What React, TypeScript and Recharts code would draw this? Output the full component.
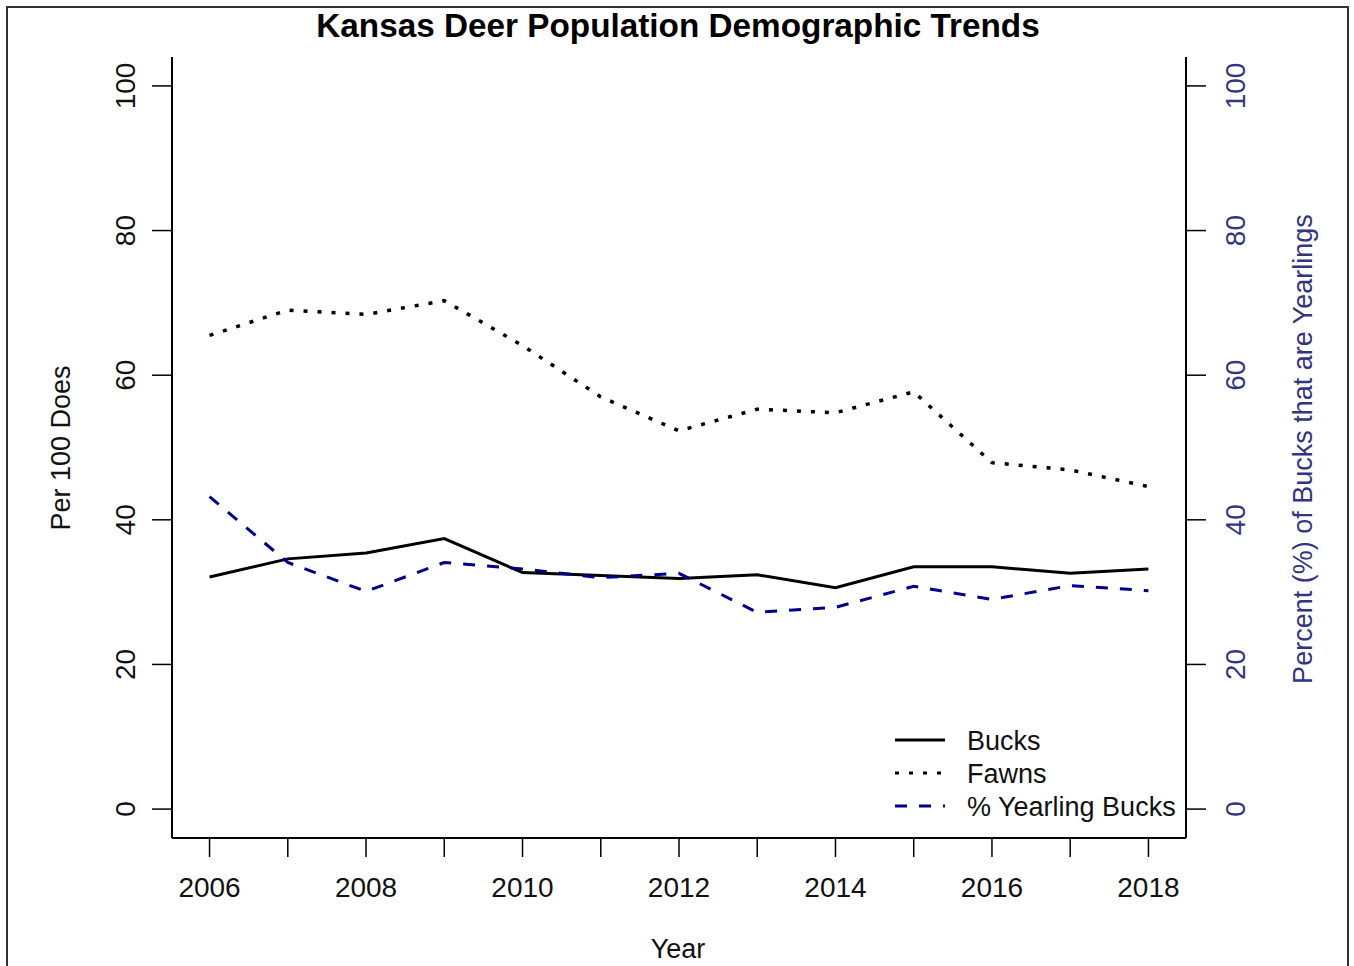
import { Legend, Line, LineChart, XAxis, YAxis } from "recharts";

const years = [2006, 2007, 2008, 2009, 2010, 2011, 2012, 2013, 2014, 2015, 2016, 2017, 2018];
const bucks = [32.1, 34.6, 35.4, 37.4, 32.7, 32.3, 31.9, 32.4, 30.6, 33.5, 33.5, 32.6, 33.2];
const fawns = [65.5, 69.0, 68.4, 70.3, 64.1, 57.0, 52.3, 55.3, 54.8, 57.7, 47.9, 46.9, 44.6];
const yearlingPct = [43.2, 34.1, 30.1, 34.1, 33.2, 32.0, 32.6, 27.2, 27.9, 30.8, 29.0, 30.9, 30.2];
const yTicks = [0, 20, 40, 60, 80, 100];

const data = years.map((year, i) => ({
  year,
  bucks: bucks[i],
  fawns: fawns[i],
  yearling: yearlingPct[i],
}));

const FONT = "'Liberation Sans', Arial, sans-serif";
const NAVY = "#00008b";
const RIGHT_TEXT = "#34347f";

function YearTick({ x, y, payload }: any) {
  if (payload.value % 2 !== 0) return null;
  return (
    <text x={x} y={y + 38} textAnchor="middle" fontFamily={FONT} fontSize={28} fill="#111">
      {payload.value}
    </text>
  );
}

// R draws y labels parallel to the axis
function SideTick({ x, y, payload, shift, color }: any) {
  return (
    <text
      x={x}
      y={y}
      dy={shift}
      transform={`rotate(-90 ${x} ${y})`}
      textAnchor="middle"
      fontFamily={FONT}
      fontSize={28}
      fill={color}
    >
      {payload.value}
    </text>
  );
}

const legendItems = [
  { name: "Bucks", color: "#000", dash: undefined },
  { name: "Fawns", color: "#000", dash: "4 10" },
  { name: "% Yearling Bucks", color: NAVY, dash: "12 12" },
];

function LegendBox() {
  return (
    <svg width={320} height={110}>
      {legendItems.map((it, i) => (
        <g key={it.name}>
          <line x1={15} x2={65} y1={20 + i * 33} y2={20 + i * 33} stroke={it.color} strokeWidth={3} strokeDasharray={it.dash} />
          <text x={87} y={30 + i * 33} fontFamily={FONT} fontSize={27} fill="#111">
            {it.name}
          </text>
        </g>
      ))}
    </svg>
  );
}

export default function App() {
  return (
    <div style={{ position: "absolute", left: 0, top: 0, width: 1354, height: 966, background: "#fff", overflow: "hidden" }}>
      <div
        style={{
          position: "absolute",
          left: 6,
          top: 6,
          width: 1343,
          height: 1000,
          border: "2px solid #333",
          boxSizing: "border-box",
        }}
      />
      <LineChart width={1354} height={966} data={data} margin={{ top: 57, right: 108, bottom: 68, left: 112 }}>
        <XAxis
          xAxisId="x"
          type="number"
          dataKey="year"
          domain={[2005.52, 2018.48]}
          ticks={years}
          interval={0}
          allowDataOverflow
          height={60}
          tickSize={19}
          tick={<YearTick />}
          tickLine={{ stroke: "#000", strokeWidth: 1.5 }}
          axisLine={{ stroke: "#000", strokeWidth: 2 }}
        />
        <XAxis
          xAxisId="top"
          orientation="top"
          type="number"
          dataKey="year"
          domain={[2005.52, 2018.48]}
          allowDataOverflow
          height={0}
          tick={false}
          tickLine={false}
          axisLine={{ stroke: "#000", strokeWidth: 2 }}
        />
        <YAxis
          yAxisId="left"
          type="number"
          domain={[-4, 104]}
          ticks={yTicks}
          interval={0}
          allowDataOverflow
          width={60}
          tickSize={20}
          tick={<SideTick shift={-15} color="#111" />}
          tickLine={{ stroke: "#000", strokeWidth: 1.5 }}
          axisLine={{ stroke: "#000", strokeWidth: 2 }}
        />
        <YAxis
          yAxisId="right"
          orientation="right"
          type="number"
          domain={[-4, 104]}
          ticks={yTicks}
          interval={0}
          allowDataOverflow
          width={60}
          tickSize={20}
          tick={<SideTick shift={37} color={RIGHT_TEXT} />}
          tickLine={{ stroke: "#000", strokeWidth: 1.5 }}
          axisLine={{ stroke: "#000", strokeWidth: 2 }}
        />
        <Line
          xAxisId="x"
          yAxisId="left"
          type="linear"
          dataKey="bucks"
          name="Bucks"
          stroke="#000"
          strokeWidth={3}
          dot={false}
          isAnimationActive={false}
        />
        <Line
          xAxisId="x"
          yAxisId="left"
          type="linear"
          dataKey="fawns"
          name="Fawns"
          stroke="#000"
          strokeWidth={3.5}
          strokeDasharray="4 10"
          dot={false}
          isAnimationActive={false}
        />
        <Line
          xAxisId="x"
          yAxisId="right"
          type="linear"
          dataKey="yearling"
          name="% Yearling Bucks"
          stroke={NAVY}
          strokeWidth={3}
          strokeDasharray="12 12"
          dot={false}
          isAnimationActive={false}
        />
        <Legend
          layout="horizontal"
          verticalAlign="middle"
          align="center"
          content={<LegendBox />}
          wrapperStyle={{ left: 880, top: 720, width: 320, height: 110 }}
        />
      </LineChart>
      <svg width={1354} height={966} style={{ position: "absolute", left: 0, top: 0, pointerEvents: "none" }}>
        <text x={678} y={37} textAnchor="middle" fontFamily={FONT} fontSize={33.3} fontWeight="bold" fill="#000">
          Kansas Deer Population Demographic Trends
        </text>
        <text x={678} y={958} textAnchor="middle" fontFamily={FONT} fontSize={27} fill="#111">
          Year
        </text>
        <text x={70} y={448} transform="rotate(-90 70 448)" textAnchor="middle" fontFamily={FONT} fontSize={27} fill="#111">
          Per 100 Does
        </text>
        <text x={1312} y={449} transform="rotate(-90 1312 449)" textAnchor="middle" fontFamily={FONT} fontSize={27} fill={RIGHT_TEXT}>
          Percent (%) of Bucks that are Yearlings
        </text>
      </svg>
    </div>
  );
}
